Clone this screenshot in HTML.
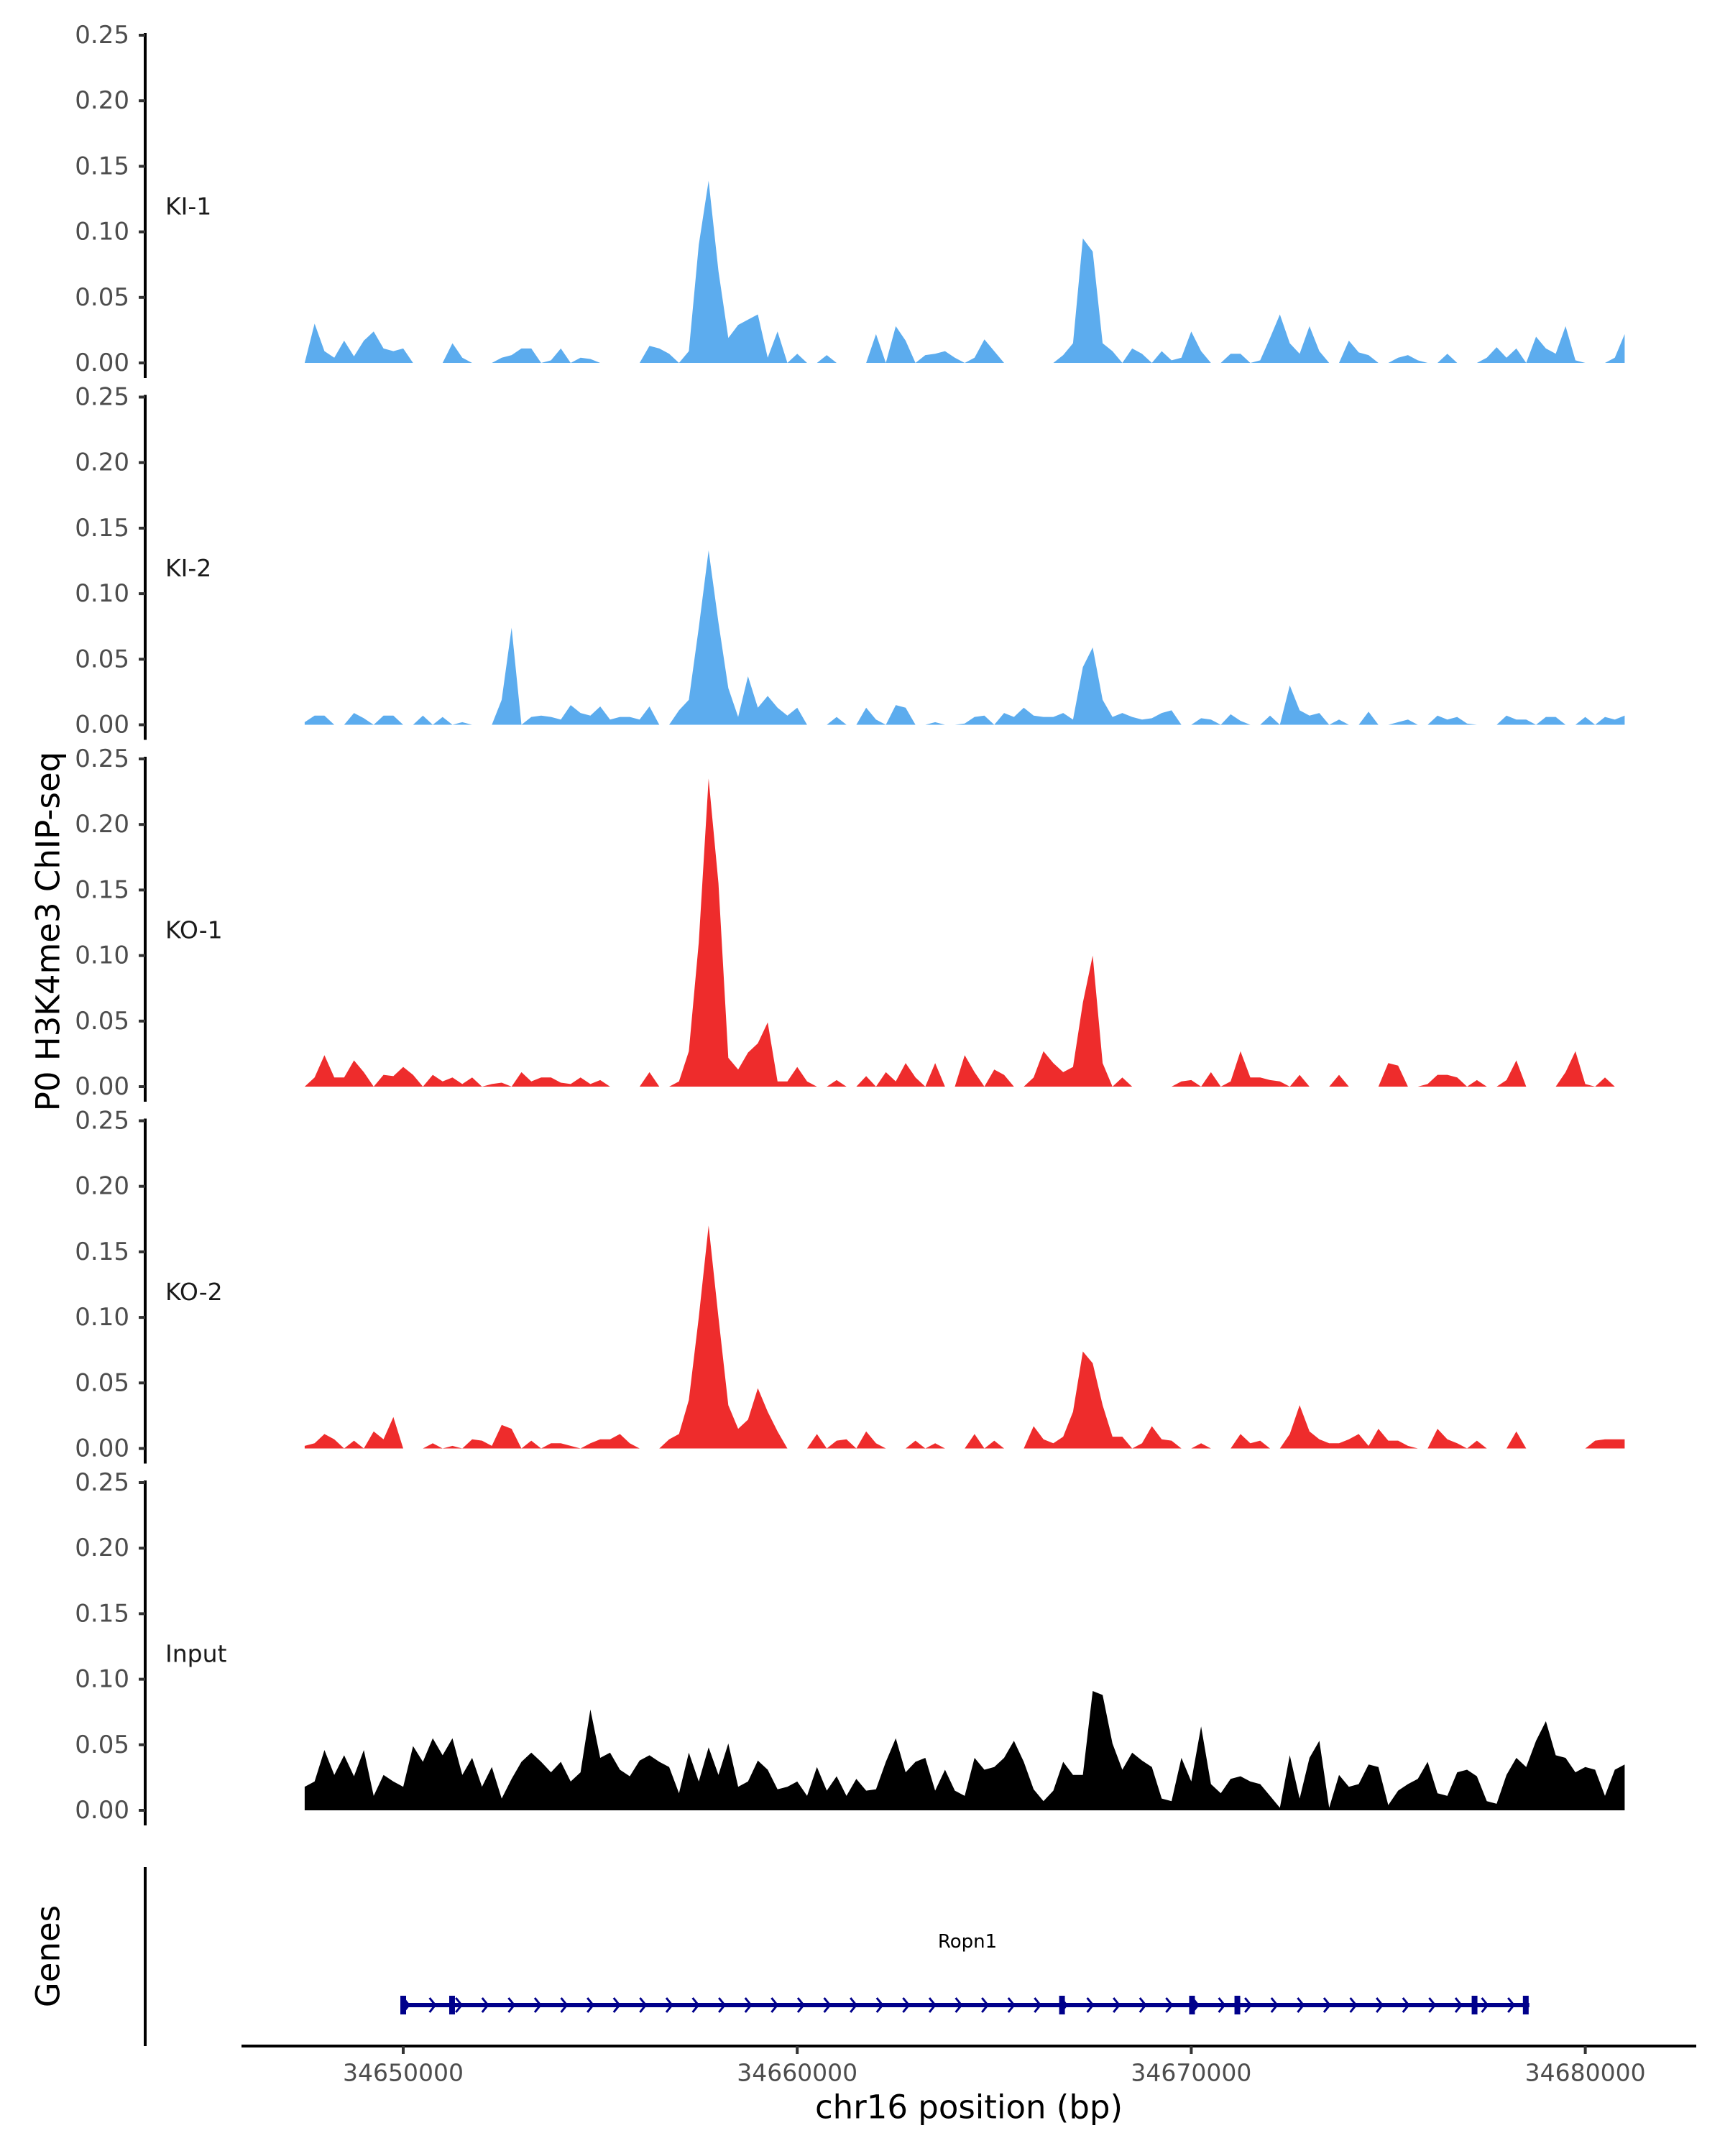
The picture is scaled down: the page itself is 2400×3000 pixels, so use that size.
<!DOCTYPE html>
<html><head><meta charset="utf-8"><style>
html,body{margin:0;padding:0;background:#fff;}
svg{display:block;font-family:"DejaVu Sans","Liberation Sans",sans-serif;}
</style></head><body>
<svg id="chart" width="2400" height="3000" viewBox="0 0 2400 3000" xmlns="http://www.w3.org/2000/svg">
<rect width="2400" height="3000" fill="#fff"/>
<text x="67" y="1296" font-size="45" text-anchor="middle" dominant-baseline="central" transform="rotate(-90 67 1296)" fill="#000">P0 H3K4me3 ChIP-seq</text>
<text x="67" y="2722" font-size="45" text-anchor="middle" dominant-baseline="central" transform="rotate(-90 67 2722)" fill="#000">Genes</text>
<text x="1348" y="2932" font-size="45" text-anchor="middle" dominant-baseline="central" fill="#000">chr16 position (bp)</text>
<text x="1346" y="2702" font-size="26" text-anchor="middle" dominant-baseline="central" fill="#000">Ropn1</text>
<g id="tracks"></g>
<g id="genes"></g>
<g id="xaxis"></g>
</svg>
<script>
const binStartBp = 34647500;
const binStepBp = 250;
const trackNames = ["KI-1","KI-2","KO-1","KO-2","Input"];
const yTicks = [0, 0.05, 0.10, 0.15, 0.20, 0.25];
const yTickLabels = ["0.00","0.05","0.10","0.15","0.20","0.25"];
const xTicks = [34650000, 34660000, 34670000, 34680000];
const xTickLabels = ["34650000","34660000","34670000","34680000"];

const ki1 = [0,0.03,0.009,0.004,0.017,0.005,0.017,0.024,0.011,0.009,0.011,0,0,0,0,0.015,0.004,0,0,0,0.004,0.006,0.011,0.011,0,0.002,0.011,0,0.004,0.003,0,0,0,0,0,0.013,0.011,0.007,0,0.009,0.09,0.139,0.07,0.019,0.029,0.033,0.037,0.004,0.024,0,0.007,0,0,0.006,0,0,0,0,0.022,0,0.028,0.017,0,0.006,0.007,0.009,0.004,0,0.004,0.018,0.009,0,0,0,0,0,0,0.006,0.015,0.095,0.085,0.015,0.009,0,0.011,0.007,0,0.009,0.002,0.004,0.024,0.009,0,0,0.007,0.007,0,0.002,0.019,0.037,0.015,0.007,0.028,0.009,0,0,0.017,0.008,0.006,0,0,0.004,0.006,0.002,0,0,0.007,0,0,0,0.004,0.012,0.004,0.011,0,0.02,0.011,0.007,0.028,0.002,0,0,0,0.004,0.022];
const ki2 = [0.002,0.007,0.007,0,0,0.009,0.005,0,0.007,0.007,0,0,0.007,0,0.006,0,0.002,0,0,0,0.019,0.074,0,0.006,0.007,0.006,0.004,0.015,0.009,0.007,0.014,0.004,0.006,0.006,0.004,0.014,0,0,0.011,0.019,0.074,0.133,0.078,0.028,0.006,0.037,0.013,0.022,0.013,0.007,0.013,0,0,0,0.006,0,0,0.013,0.004,0,0.015,0.013,0,0,0.002,0,0,0.001,0.006,0.007,0,0.009,0.006,0.013,0.007,0.006,0.006,0.009,0.004,0.044,0.059,0.019,0.006,0.009,0.006,0.004,0.005,0.009,0.011,0,0,0.005,0.004,0,0.008,0.003,0,0,0.007,0,0.03,0.011,0.007,0.009,0,0.004,0,0,0.01,0,0,0.002,0.004,0,0,0.007,0.004,0.006,0.001,0,0,0,0.007,0.004,0.004,0,0.006,0.006,0,0,0.006,0,0.006,0.004,0.007];
const ko1 = [0,0.007,0.024,0.007,0.007,0.02,0.011,0,0.009,0.008,0.015,0.009,0,0.009,0.004,0.007,0.002,0.007,0,0.002,0.003,0,0.011,0.004,0.007,0.007,0.003,0.002,0.007,0.002,0.005,0,0,0,0,0.011,0,0,0.004,0.027,0.11,0.235,0.155,0.022,0.013,0.026,0.033,0.049,0.004,0.004,0.015,0.004,0,0,0.005,0,0,0.008,0,0.011,0.004,0.018,0.007,0,0.018,0,0,0.024,0.011,0,0.013,0.009,0,0,0.007,0.027,0.018,0.011,0.015,0.064,0.10,0.018,0,0.007,0,0,0,0,0,0.004,0.005,0,0.011,0,0.004,0.027,0.007,0.007,0.005,0.004,0,0.009,0,0,0,0.009,0,0,0,0,0.018,0.016,0,0,0.002,0.009,0.009,0.007,0,0.005,0,0,0.005,0.02,0,0,0,0,0.011,0.027,0.002,0,0.007,0,0];
const ko2 = [0.002,0.004,0.011,0.007,0,0.006,0,0.013,0.007,0.024,0,0,0,0.004,0,0.002,0,0.007,0.006,0.002,0.018,0.015,0,0.006,0,0.004,0.004,0.002,0,0.004,0.007,0.007,0.011,0.004,0,0,0,0.007,0.011,0.037,0.10,0.17,0.10,0.033,0.015,0.022,0.046,0.028,0.013,0,0,0,0.011,0,0.006,0.007,0,0.013,0.004,0,0,0,0.006,0,0.004,0,0,0,0.011,0,0.006,0,0,0,0.017,0.007,0.004,0.009,0.028,0.074,0.065,0.033,0.009,0.009,0,0.004,0.017,0.007,0.006,0,0,0.004,0,0,0,0.011,0.004,0.006,0,0,0.011,0.033,0.013,0.007,0.004,0.004,0.007,0.011,0.002,0.015,0.006,0.006,0.002,0,0,0.015,0.007,0.004,0,0.006,0,0,0,0.013,0,0,0,0,0,0,0,0.006,0.007,0.007,0.007];
const input = [0.018,0.022,0.046,0.027,0.042,0.026,0.046,0.011,0.027,0.022,0.018,0.049,0.037,0.055,0.042,0.055,0.027,0.04,0.018,0.033,0.009,0.024,0.037,0.044,0.037,0.029,0.037,0.022,0.029,0.077,0.04,0.044,0.031,0.026,0.038,0.042,0.037,0.033,0.013,0.044,0.022,0.048,0.027,0.051,0.018,0.022,0.038,0.031,0.016,0.018,0.022,0.011,0.033,0.015,0.026,0.011,0.024,0.015,0.016,0.037,0.055,0.029,0.037,0.04,0.015,0.031,0.015,0.011,0.04,0.031,0.033,0.04,0.053,0.037,0.016,0.007,0.015,0.037,0.027,0.027,0.091,0.088,0.051,0.031,0.044,0.038,0.033,0.009,0.007,0.04,0.022,0.064,0.02,0.013,0.024,0.026,0.022,0.02,0.011,0.002,0.042,0.009,0.04,0.053,0.002,0.027,0.018,0.02,0.035,0.033,0.004,0.015,0.02,0.024,0.037,0.013,0.011,0.029,0.031,0.026,0.007,0.005,0.027,0.04,0.033,0.053,0.068,0.042,0.04,0.029,0.033,0.031,0.011,0.031,0.035];

const exonBp = [34650000, 34651240, 34666720, 34670020, 34671170, 34677190, 34678490];
const geneStartBp = 34650000;
const geneEndBp = 34678580;

const trackSeries = [ki1, ki2, ko1, ko2, input];
const trackColors = ["#5CACEE","#5CACEE","#EE2C2C","#EE2C2C","#000000"];

const NS = "http://www.w3.org/2000/svg";
function xScale(bp){ return 561 + (bp - 34650000) * 548.2 / 10000; }
function panelTop(k){ return 49 + 503.5 * k; }
function yScale(k, v){ return panelTop(k) + 456 - v * 456 / 0.25; }
function mk(tag, attrs, parent){
  const e = document.createElementNS(NS, tag);
  for (const a in attrs) e.setAttribute(a, attrs[a]);
  parent.appendChild(e);
  return e;
}

const tracksG = document.getElementById('tracks');
trackSeries.forEach((vals, k) => {
  const g = mk('g', {}, tracksG);
  
  
  const base = yScale(k, 0);
  const ax = mk('line', {x1:202, x2:202, y1:panelTop(k)-3, y2:panelTop(k)+477, stroke:'#000', 'stroke-width':4}, g);
  
  
  yTicks.forEach((t, j) => {
    const y = yScale(k, t);
    const tk = mk('line', {x1:193, x2:202, y1:y, y2:y, stroke:'#333', 'stroke-width':4}, g);
    
    
    const tl = mk('text', {x:180, y:y, 'font-size':34, fill:'#4d4d4d', 'text-anchor':'end', 'dominant-baseline':'central'}, g);
    tl.textContent = yTickLabels[j];
    
    
  });
  const lab = mk('text', {x:230, y:panelTop(k)+238, 'font-size':33, fill:'#1a1a1a', 'dominant-baseline':'central'}, g);
  lab.textContent = trackNames[k];
  
  
  let d = 'M' + xScale(binStartBp).toFixed(1) + ',' + base;
  vals.forEach((v, i) => {
    d += ' L' + xScale(binStartBp + i * binStepBp).toFixed(1) + ',' + yScale(k, v).toFixed(1);
  });
  d += ' L' + xScale(binStartBp + (vals.length - 1) * binStepBp).toFixed(1) + ',' + base + ' Z';
  const area = mk('path', {d:d, fill:trackColors[k]}, g);
  
  
});

const genesG = document.getElementById('genes');
const gax = mk('line', {x1:202, x2:202, y1:2598, y2:2847, stroke:'#000', 'stroke-width':4}, genesG);


const gy = 2790;
const gl = mk('line', {x1:xScale(geneStartBp), x2:xScale(geneEndBp), y1:gy, y2:gy, stroke:'#00008B', 'stroke-width':6}, genesG);


for (let x = xScale(geneStartBp) + 4; x < xScale(geneEndBp) - 10; x += 36.6) {
  const c = mk('polyline', {points:(x-4)+','+(gy-10)+' '+(x+4)+','+gy+' '+(x-4)+','+(gy+10), fill:'none', stroke:'#00008B', 'stroke-width':3}, genesG);
  
  
}
exonBp.forEach(bp => {
  const r = mk('rect', {x:xScale(bp)-4, y:gy-13, width:8, height:26, fill:'#00008B'}, genesG);
  
  
});

const xG = document.getElementById('xaxis');
const xl = mk('line', {x1:336, x2:2360, y1:2847, y2:2847, stroke:'#000', 'stroke-width':4}, xG);


xTicks.forEach((t, j) => {
  const x = xScale(t);
  const tk = mk('line', {x1:x, x2:x, y1:2847, y2:2858, stroke:'#333', 'stroke-width':4}, xG);
  
  
  const tl = mk('text', {x:x, y:2884, 'font-size':33, fill:'#4d4d4d', 'text-anchor':'middle', 'dominant-baseline':'central'}, xG);
  tl.textContent = xTickLabels[j];
  
  
});
</script>
</body></html>
